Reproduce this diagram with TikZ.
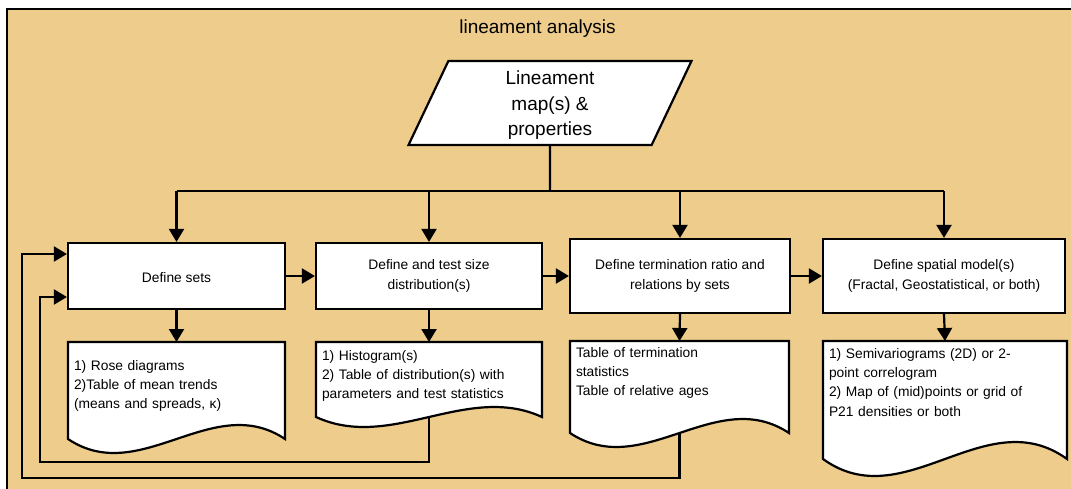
\documentclass[tikz,border=0pt]{standalone}
\usepackage{fontspec}
\setmainfont{Liberation Sans}
\usetikzlibrary{shapes.geometric,arrows.meta}

\definecolor{sand}{RGB}{237,204,140}

\makeatletter
\def\docwave{12}
\tikzset{wave depth/.code={\def\docwave{#1}}}
\pgfdeclareshape{docpage}{
  \inheritsavedanchors[from=rectangle]
  \inheritanchorborder[from=rectangle]
  \inheritanchor[from=rectangle]{center}
  \inheritanchor[from=rectangle]{north}
  \inheritanchor[from=rectangle]{south}
  \inheritanchor[from=rectangle]{west}
  \inheritanchor[from=rectangle]{east}
  \inheritanchor[from=rectangle]{north west}
  \inheritanchor[from=rectangle]{north east}
  \inheritanchor[from=rectangle]{south west}
  \inheritanchor[from=rectangle]{south east}
  \backgroundpath{%
    \southwest \edef\doc@l{\the\pgf@x}\edef\doc@b{\the\pgf@y}%
    \northeast \edef\doc@r{\the\pgf@x}\edef\doc@t{\the\pgf@y}%
    \pgf@xc=\doc@r \advance\pgf@xc by -\doc@l \divide\pgf@xc by 3
    \edef\doc@s{\the\pgf@xc}%
    \pgf@yc=\docwave pt \pgf@yc=3.46\pgf@yc
    \edef\doc@k{\the\pgf@yc}%
    \pgfpathmoveto{\pgfqpoint{\doc@l}{\doc@b}}%
    \pgfpathlineto{\pgfqpoint{\doc@l}{\doc@t}}%
    \pgfpathlineto{\pgfqpoint{\doc@r}{\doc@t}}%
    \pgfpathlineto{\pgfqpoint{\doc@r}{\doc@b}}%
    \pgfpathcurveto{\pgfqpoint{\dimexpr\doc@r-\doc@s\relax}{\dimexpr\doc@b+\doc@k\relax}}%
      {\pgfqpoint{\dimexpr\doc@l+\doc@s\relax}{\dimexpr\doc@b-\doc@k\relax}}%
      {\pgfqpoint{\doc@l}{\doc@b}}%
    \pgfpathclose
  }
}
\makeatother

\begin{document}
\begin{tikzpicture}[x=1pt,y=-1pt,font=\fontsize{13.8}{19.4}\selectfont,
  proc/.style={draw,fill=white,line width=2.2pt,align=center},
  docu/.style={shape=docpage,draw,fill=white,line width=2.2pt,anchor=north west,align=left,inner xsep=6pt,inner ysep=0pt,outer sep=0pt},
  flow/.style={line width=2.2pt,-{Triangle[length=13pt,width=15pt]}}]
\def\bh{66}
\def\bH{74}
\useasboundingbox (0,0) rectangle (1071,488);
\clip (0,0) rectangle (1071,488);
\draw[line width=2.4pt,fill=sand] (7,9) rectangle (1085,500);

\node[font=\fontsize{19}{23}\selectfont] (title) at (537.5,28.5) {lineament analysis};

\node[trapezium,trapezium left angle=63.4,trapezium right angle=116.6,trapezium stretches body,draw,fill=white,line width=2.2pt,minimum width=283,minimum height=84,align=center,font=\fontsize{19}{25.5}\selectfont] (maps) at (550,103) {\rule{0pt}{18pt}Lineament\\map(s) \&\\properties};

\node[proc,minimum width=217,minimum height=\bh] (sets) at (176.5,276) {\raisebox{-2pt}[\height][\depth]{Define sets}};
\node[proc,minimum width=226,minimum height=\bh] (sizes) at (429,276) {Define and test size\\distribution(s)};
\node[proc,minimum width=220,minimum height=\bH] (term) at (680,276) {Define termination ratio and\\relations by sets};
\node[proc,minimum width=242,minimum height=\bH] (model) at (944,276) {Define spatial model(s)\\(Fractal, Geostatistical, or both)};

\node[docu,text width=205pt,text height=28pt,text depth=69pt,wave depth=14] (sets-out) at (68,342) {1) Rose diagrams\\2)Table of mean trends\\(means and spreads, κ)};
\node[docu,text width=214pt,text height=18pt,text depth=57pt,wave depth=10] (sizes-out) at (316,342) {1) Histogram(s)\\2) Table of distribution(s) with\\parameters and test statistics};
\node[docu,text width=207pt,text height=16pt,text depth=76pt,wave depth=14] (term-out) at (570,341) {Table of termination\\statistics\\Table of relative ages};
\node[docu,text width=232pt,text height=17pt,text depth=101pt,wave depth=17] (model-out) at (823,341) {1) Semivariograms (2D) or 2-\\point correlogram\\2) Map of (mid)points or grid of\\P21 densities or both};

\coordinate (split) at (550,191);
\draw[line width=2.2pt] (maps.south) -- (split);
\draw[line width=2.2pt] (split -| sets.north) -- (split -| model.north);
\foreach \n in {sets,sizes,term,model} {
  \draw[flow] (split -| \n.north) -- (\n.north);
  \draw[flow] (\n.south) -- (\n-out.north);
}

\draw[flow] (sets) -- (sizes);
\draw[flow] (sizes) -- (term);
\draw[flow] (term) -- (model);

\coordinate (loopA) at (40,462);
\coordinate (loopB) at (22,478);
\draw[flow] (sizes-out.south) |- (loopA) |- ([yshift=-21pt]sets.west);
\draw[flow] (term-out.south) |- (loopB) |- ([yshift=22pt]sets.west);
\end{tikzpicture}
\end{document}
